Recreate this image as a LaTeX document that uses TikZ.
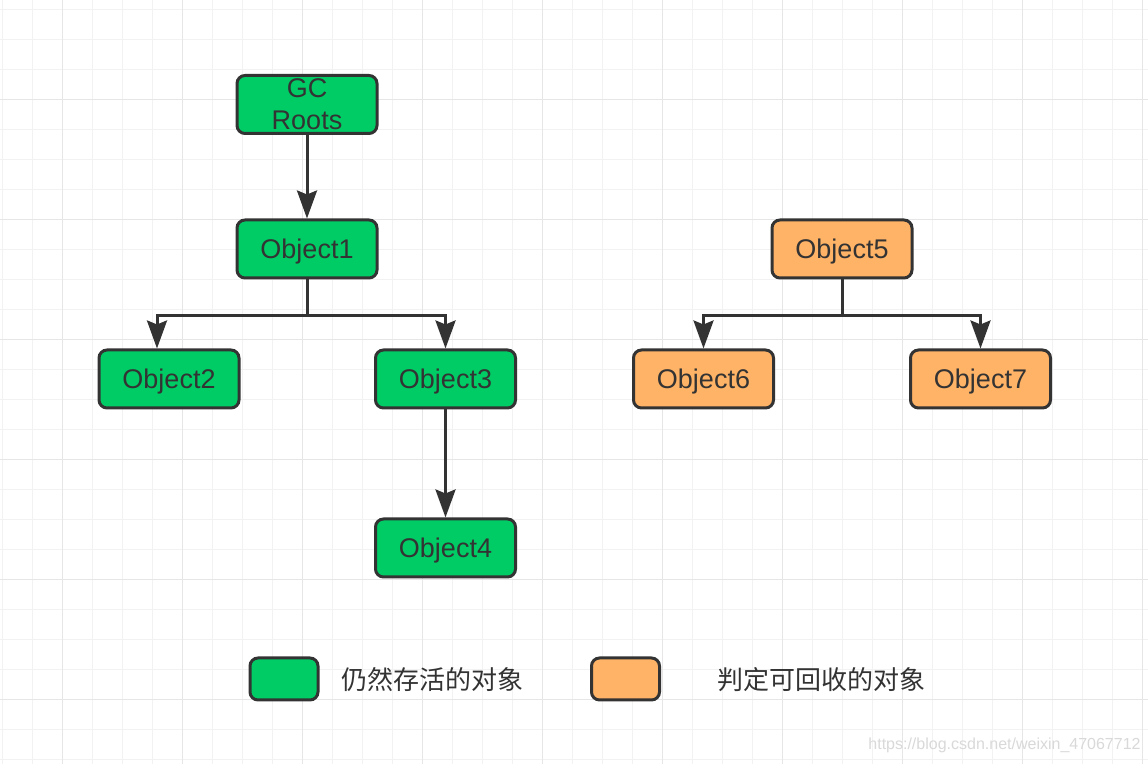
\documentclass[tikz,border=0pt]{standalone}
\usepackage{fontspec}
\setmainfont{Liberation Sans}
\newfontfamily\cjk{Noto Sans CJK SC}
\usetikzlibrary{arrows.meta}

\definecolor{alive}{HTML}{00CC66}
\definecolor{dead}{HTML}{FFB366}
\definecolor{edge}{HTML}{333333}
\definecolor{gridminor}{HTML}{F2F2F2}
\definecolor{gridmajor}{HTML}{E6E6E6}

\begin{document}
\begin{tikzpicture}[x=0.5pt,y=-0.5pt,
    obj/.style={draw=edge,line width=1.5pt,rounded corners=4pt,minimum width=70pt,
      minimum height=29pt,inner sep=0pt,text depth=0pt,text=edge,font=\fontsize{13.5}{16}\selectfont},
    live/.style={obj,fill=alive},
    gone/.style={obj,fill=dead},
    ref/.style={draw=edge,line width=1.5pt,-{Stealth[length=14pt,width=10pt,inset=2pt]}},
    key/.style={draw=edge,line width=1.5pt,rounded corners=4pt,minimum width=34pt,
      minimum height=21pt,inner sep=0pt},
    keytext/.style={anchor=west,inner sep=0pt,text=edge,font=\cjk\fontsize{13}{16}\selectfont}]
                \fill[white] (0,0) rectangle (1148,764);
                \useasboundingbox (0,0) rectangle (1148,764);
                % grid paper
                \foreach \k in {0,...,38}
                  \draw[gridminor,line width=0.75pt] ({2.7+30*\k},0) -- ({2.7+30*\k},764);
                \foreach \k in {0,...,25}
                  \draw[gridminor,line width=0.75pt] (0,{9.3+30*\k}) -- (1148,{9.3+30*\k});
                \foreach \k in {0,...,9}
                  \draw[gridmajor,line width=0.75pt] ({62.7+120*\k},0) -- ({62.7+120*\k},764);
                \foreach \k in {0,...,5}
                  \draw[gridmajor,line width=0.75pt] (0,{99.3+120*\k}) -- (1148,{99.3+120*\k});
                % reachable objects
                \node[live,align=center] (roots) at (307,104.5) {GC\\Roots};
                \node[live] (o1) at (307,249) {Object1};
                \node[live] (o2) at (169,379) {Object2};
                \node[live] (o3) at (445.5,379) {Object3};
                \node[live] (o4) at (445.5,548) {Object4};
                % unreachable objects
                \node[gone] (o5) at (842,249) {Object5};
                \node[gone] (o6) at (703.5,379) {Object6};
                \node[gone] (o7) at (980.5,379) {Object7};
                % references
                \draw[ref] (roots.south) -- (o1.north);
                \draw[ref] (o1.south) -- ++(0,36) -| ([xshift=-6pt]o2.north);
                \draw[ref] (o1.south) -- ++(0,36) -| (o3.north);
                \draw[ref] (o3.south) -- (o4.north);
                \draw[ref] (o5.south) -- ++(0,36) -| (o6.north);
                \draw[ref] (o5.south) -- ++(0,36) -| (o7.north);
                % legend
                \node[key,fill=alive] (keylive) at (284,679) {};
                \node[keytext] (livetext) at (341,680) {仍然存活的对象};
                \node[key,fill=dead] (keygone) at (625.5,679) {};
                \node[keytext] (gonetext) at (717,680) {判定可回收的对象};
                \node[anchor=east,inner sep=0pt,text=black!15,font=\fontsize{8}{10}\selectfont] (mark)
                  at (1141,745) {https://blog.csdn.net/weixin\_47067712};
\end{tikzpicture}
\end{document}
